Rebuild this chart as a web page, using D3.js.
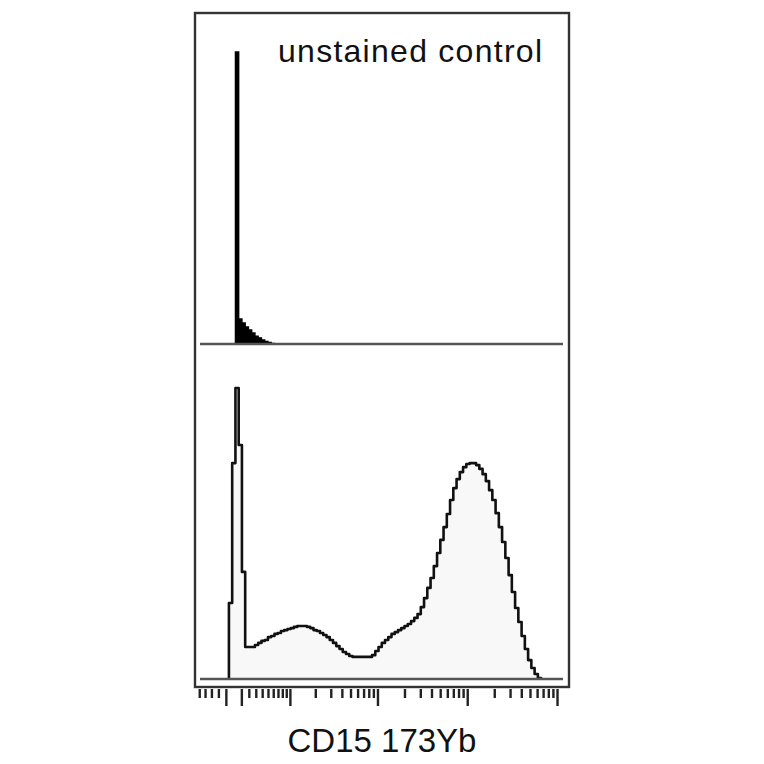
<!DOCTYPE html>
<html><head><meta charset="utf-8">
<script src="https://cdn.jsdelivr.net/npm/d3@7"></script>
<style>html,body{margin:0;padding:0;background:#fff;}</style>
</head><body>
<svg id="c" width="764" height="764"></svg>
<script>
// ---- data ----
const cofactor = 5;                 // arcsinh cofactor of the intensity axis
const binStart = -0.12;             // first bin edge (arcsinh units)
const binWidth = 0.0834;            // bin width (arcsinh units)
const unstainedCounts = [0,0,1000,86,72,58,48,38,27,21,14,9,5,2];
const stainedCounts = [261,742,1000,804,368,110,110,110,117,124,131,134,144,148,155,158,165,168,172,175,
  179,182,182,182,179,175,168,165,158,151,144,134,124,113,103,93,86,79,76,76,
  76,76,76,76,82,96,110,124,134,144,155,161,168,175,182,189,199,210,223,247,
  278,313,347,388,433,478,522,567,615,656,687,711,728,739,742,742,735,722,704,680,
  649,615,570,522,471,416,357,299,244,196,148,103,65,38,17,3];
const majorTicks = [-1, 1, 10, 100, 1000, 10000];
const minorTicks = [-5,-4,-3,-2, 2,3,4,5,6,7,8,9, 20,30,40,50,60,70,80,90,
  200,300,400,500,600,700,800,900, 2000,3000,4000,5000,6000,7000,8000,9000];
const xDomain = [-5.8, 13600];
const countMax = 1000;
const panelTitle = "unstained control";
const axisTitle = "CD15 173Yb";

// ---- scales ----
const tr = v => Math.asinh(v / cofactor);
const xLin = d3.scaleLinear().domain(xDomain.map(tr)).range([195, 569]);
const yTop = d3.scaleLinear().domain([0, countMax]).range([344, 52]);
const yBot = d3.scaleLinear().domain([0, countMax]).range([679, 388]);

const svg = d3.select("#c");

function stepPoints(counts) {
  const pts = [[binStart, 0]];
  counts.forEach((c, i) => {
    const u0 = binStart + i * binWidth, u1 = u0 + binWidth;
    pts.push([u0, c], [u1, c]);
  });
  pts.push([binStart + counts.length * binWidth, 0]);
  return pts;
}

// top panel histogram (filled black)
const ptsTop = stepPoints(unstainedCounts);
svg.append("path")
  .attr("d", d3.area().x(d => xLin(d[0])).y0(yTop(0)).y1(d => yTop(d[1]))(ptsTop))
  .attr("fill", "#000").attr("stroke", "#000").attr("stroke-width", 1.4);

// bottom panel histogram
const ptsBot = stepPoints(stainedCounts);
svg.append("path")
  .attr("d", d3.area().x(d => xLin(d[0])).y0(yBot(0)).y1(d => yBot(d[1]))(ptsBot))
  .attr("fill", "#f8f8f8");
svg.append("path")
  .attr("d", d3.line().x(d => xLin(d[0])).y(d => yBot(d[1]))(ptsBot))
  .attr("fill", "none").attr("stroke", "#111").attr("stroke-width", 2.6)
  .attr("stroke-linejoin", "round");

// baselines
[yTop(0), yBot(0)].forEach(y => {
  svg.append("line").attr("x1", 200).attr("x2", 563).attr("y1", y).attr("y2", y)
    .attr("stroke", "#555").attr("stroke-width", 2.4);
});

// frame
svg.append("rect").attr("x", 195).attr("y", 13).attr("width", 374).attr("height", 674)
  .attr("fill", "none").attr("stroke", "#333").attr("stroke-width", 2.4);

// axis ticks
const gMinor = svg.append("g").attr("transform", "translate(0,689)")
  .call(d3.axisBottom(xLin).tickValues(minorTicks.map(tr)).tickSize(9).tickFormat(""));
const gMajor = svg.append("g").attr("transform", "translate(0,689)")
  .call(d3.axisBottom(xLin).tickValues(majorTicks.map(tr)).tickSize(17).tickFormat(""));
[gMinor, gMajor].forEach(g => {
  g.select(".domain").remove();
  g.selectAll(".tick line").attr("stroke", "#222").attr("stroke-width", 2.4);
});

// texts
svg.append("text").attr("x", 278).attr("y", 62)
  .attr("font-family", "Liberation Sans, Arial, sans-serif").attr("font-size", 32)
  .attr("textLength", 264).attr("lengthAdjust", "spacing")
  .attr("fill", "#111").text(panelTitle);
svg.append("text").attr("x", 382).attr("y", 752).attr("text-anchor", "middle")
  .attr("font-family", "Liberation Sans, Arial, sans-serif").attr("font-size", 33)
  .attr("fill", "#111").text(axisTitle);
</script>
</body></html>
